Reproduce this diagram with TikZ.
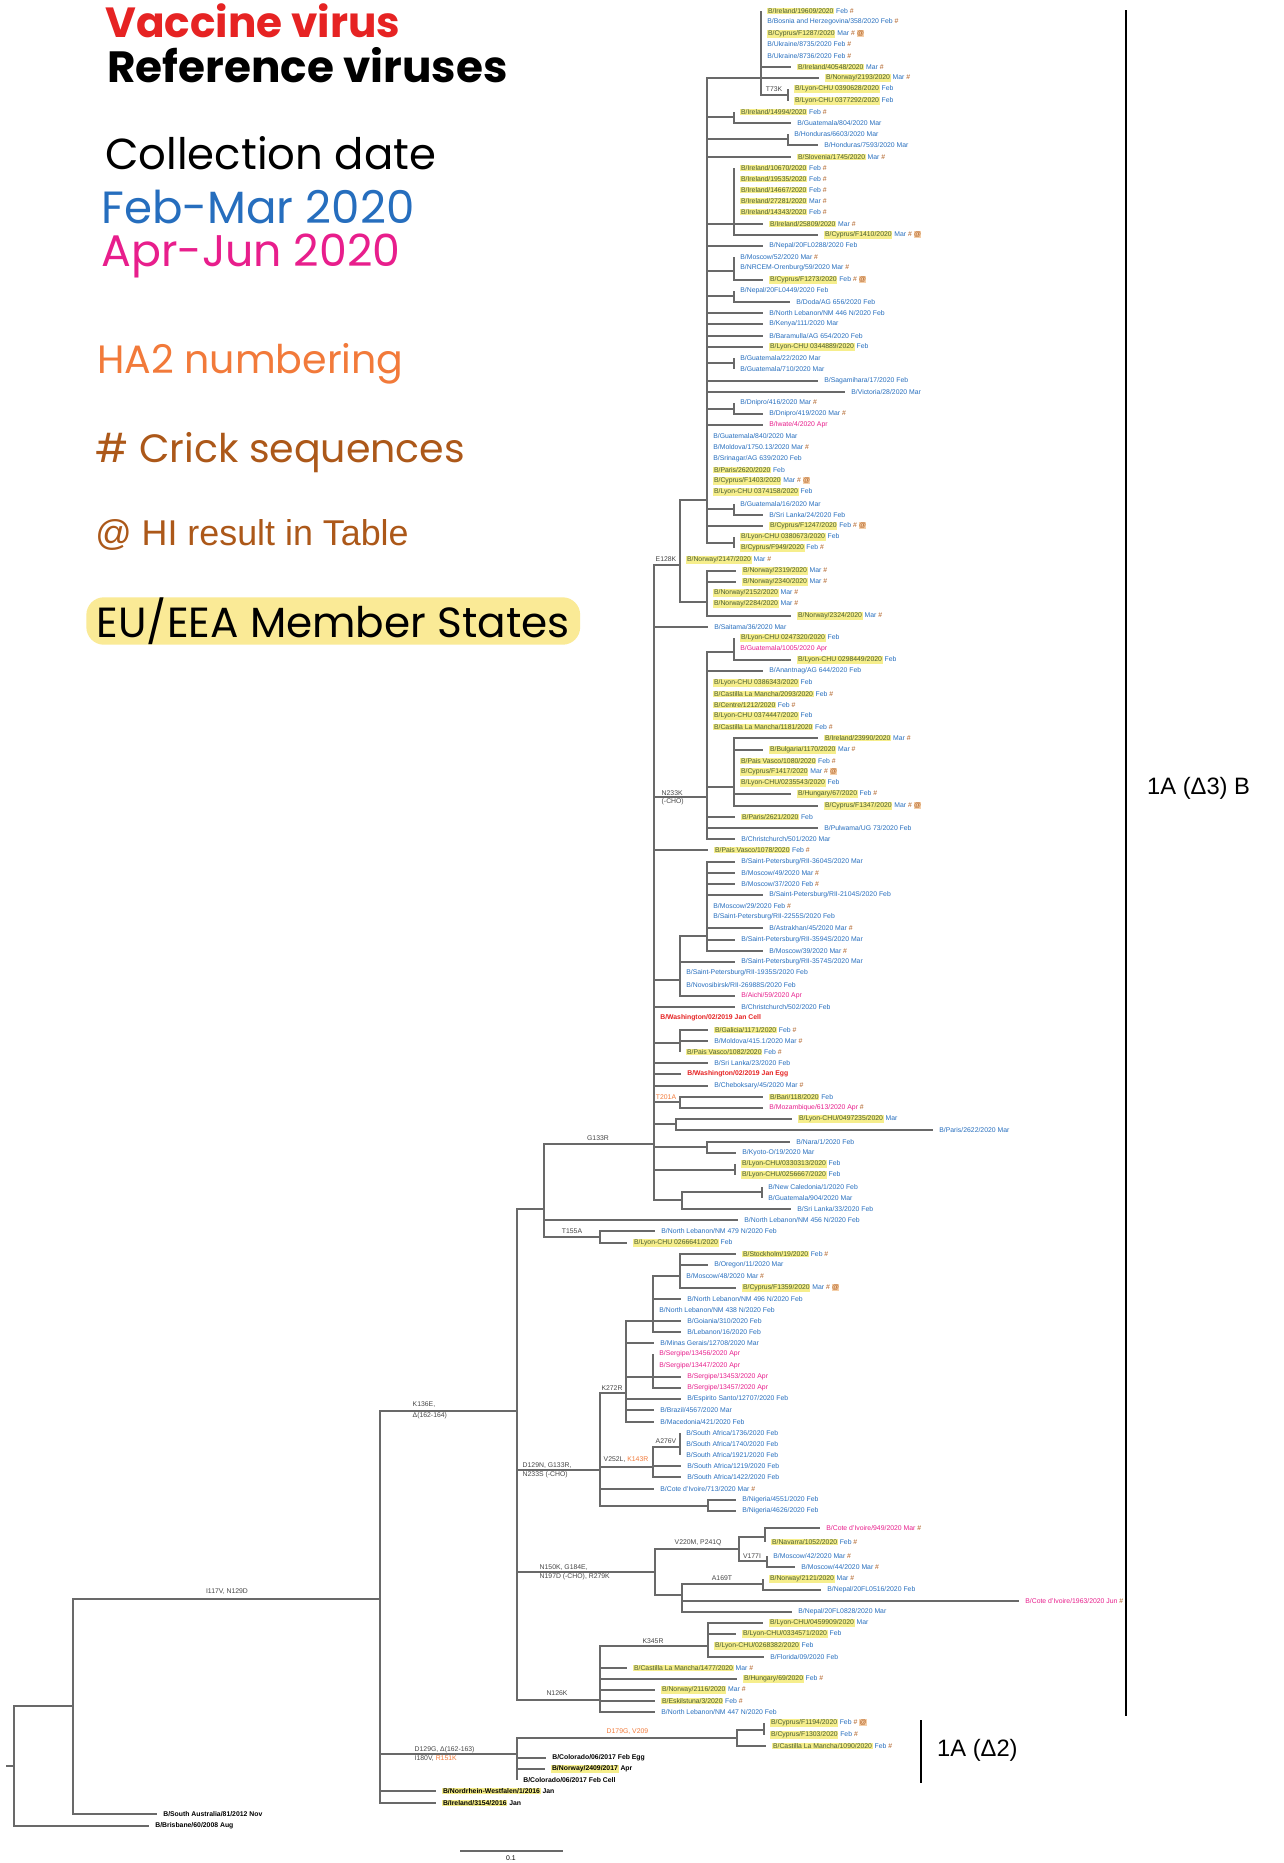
\documentclass[tikz,border=0pt]{standalone}
\usepackage{fontspec}
\setmainfont{Liberation Sans}
\newfontfamily\legfont{Poppins}

\definecolor{febmar}{RGB}{38,110,190}
\definecolor{aprjun}{RGB}{232,30,140}
\definecolor{vacred}{RGB}{230,35,35}
\definecolor{ha2}{RGB}{242,122,58}
\definecolor{crick}{RGB}{172,88,25}
\definecolor{hlyel}{RGB}{246,238,140}
\definecolor{hltxt}{RGB}{72,92,50}
\definecolor{hibg}{RGB}{245,208,170}
\definecolor{brgray}{RGB}{105,105,105}
\definecolor{mutgray}{RGB}{70,70,70}
\definecolor{euyel}{RGB}{250,234,150}

\newcommand\lfont{\fontsize{3.9}{4.6}\selectfont}
\newcommand\euhl[1]{{\setlength{\fboxsep}{0.4pt}\colorbox{hlyel}{\textcolor{hltxt}{#1}}}}
\newcommand\euhlk[1]{{\setlength{\fboxsep}{0.4pt}\colorbox{hlyel}{#1}}}
\newcommand\crk{~\textcolor{crick}{\#}}
\newcommand\hir{~{\setlength{\fboxsep}{0.2pt}\colorbox{hibg}{\textcolor{crick}{@}}}}

\tikzset{
  br/.style={draw=brgray, line width=0.65pt},
  leaf/.style={anchor=west, inner sep=0.3pt, outer xsep=3.3pt, outer ysep=0pt, font=\lfont, text=febmar},
  apr/.style={text=aprjun},
  vac/.style={text=vacred, font=\lfont\bfseries},
  refv/.style={text=black, font=\lfont\bfseries},
  inode/.style={inner sep=0pt, outer sep=0pt, minimum size=0pt},
  mut/.style={font=\lfont, text=mutgray, inner sep=0.2pt},
  hatwo/.style={mut, text=ha2},
  legend/.style={anchor=west, inner sep=0pt, font=\legfont\fontsize{#1}{28}\selectfont},
  legend/.default=24,
  cladebar/.style={draw=black, line width=1.4pt}
}

\begin{document}
\begin{tikzpicture}[x=0.02cm,y=-0.02cm]
\fill[white] (0,0) rectangle (1284,1863);
\useasboundingbox (0,0) rectangle (1284,1863);

\node[legend, font=\legfont\bfseries\fontsize{24}{28}\selectfont, text=vacred] (vacc) at (105,21) {Vaccine virus};
\node[legend, font=\legfont\bfseries\fontsize{24.9}{28}\selectfont] (refs) at (107,65) {Reference viruses};
\node[legend=24.7] (coll) at (105,153) {Collection date};
\node[legend=25.7, text=febmar] (febm) at (101,207) {Feb-Mar 2020};
\node[legend=25.2, text=aprjun] (aprj) at (101,256) {Apr-Jun 2020};
\node[legend=22.5, text=ha2] (hanum) at (97,364) {HA2 numbering};
\node[legend=22.5, text=crick] (crseq) at (95,453) {\# Crick sequences};
\node[legend, text=crick, font=\fontsize{20.4}{23}\selectfont] (hires) at (95,535) {@ HI result in Table};
\node[legend, fill=euyel, rounded corners=10pt, inner xsep=6pt, minimum height=27pt] (eea) at (86,621) {EU/EEA Member States};

\node[inode] (root) at (14,1766) {};
\node[inode] (ca) at (73,1706) {};
\node[inode] (i117) at (380,1599) {};
\node[inode] (k136) at (517,1411) {};
\node[inode] (del2) at (517,1754) {};
\node[inode] (d179) at (737,1738) {};
\node[inode] (cyp2) at (764,1730) {};
\node[inode] (g133) at (544,1209) {};
\node[inode] (t155) at (600,1237) {};
\node[inode] (main) at (654,1144) {};
\node[inode] (e128) at (680,565) {};
\node[inode] (big) at (707,500) {};
\node[inode] (t1) at (761,78) {};
\node[inode] (t73) at (788,95) {};
\node[inode] (b1) at (734,117) {};
\node[inode] (b2) at (788,139) {};
\node[inode] (b3) at (734,224) {};
\node[inode] (b4) at (734,271) {};
\node[inode] (b5) at (734,296) {};
\node[inode] (b6) at (734,363) {};
\node[inode] (b7) at (734,409) {};
\node[inode] (b8) at (734,509) {};
\node[inode] (b9) at (734,543) {};
\node[inode] (nor) at (707,602) {};
\node[inode] (n233) at (707,797) {};
\node[inode] (n1) at (734,652) {};
\node[inode] (n2) at (734,787) {};
\node[inode] (spb) at (680,980) {};
\node[inode] (spb1) at (707,936) {};
\node[inode] (gal) at (680,1043) {};
\node[inode] (t201) at (680,1102) {};
\node[inode] (par) at (676,1124) {};
\node[inode] (nar) at (707,1147) {};
\node[inode] (lyo) at (735,1170) {};
\node[inode] (sri) at (682,1200) {};
\node[inode] (cal) at (762,1192) {};
\node[inode] (d129n) at (600,1470) {};
\node[inode] (k272) at (626,1393) {};
\node[inode] (w) at (653,1321) {};
\node[inode] (w1) at (680,1276) {};
\node[inode] (serg) at (653,1377) {};
\node[inode] (v252) at (653,1467) {};
\node[inode] (a276) at (680,1447) {};
\node[inode] (nig) at (708,1506) {};
\node[inode] (n150) at (655,1572) {};
\node[inode] (v220) at (739,1549) {};
\node[inode] (civ) at (765,1537) {};
\node[inode] (v177) at (767,1561) {};
\node[inode] (atn) at (682,1595) {};
\node[inode] (a169) at (763,1584) {};
\node[inode] (n126) at (600,1700) {};
\node[inode] (k345) at (708,1646) {};
\coordinate (stub) at (6,1766);

\node[leaf] (l1) at (761,11) {\euhl{B/Ireland/19609/2020} Feb\crk};
\node[leaf] (l2) at (761,22) {B/Bosnia and Herzegovina/358/2020 Feb\crk};
\node[leaf] (l3) at (761,34) {\euhl{B/Cyprus/F1287/2020} Mar\crk\hir};
\node[leaf] (l4) at (761,44) {B/Ukraine/8735/2020 Feb\crk};
\node[leaf] (l5) at (761,56) {B/Ukraine/8736/2020 Feb\crk};
\node[leaf] (l6) at (791,67) {\euhl{B/Ireland/40548/2020} Mar\crk};
\node[leaf] (l7) at (819,78) {\euhl{B/Norway/2193/2020} Mar\crk};
\node[leaf] (l8) at (788,89) {\euhl{B/Lyon-CHU 0390628/2020} Feb};
\node[leaf] (l9) at (788,101) {\euhl{B/Lyon-CHU 0377292/2020} Feb};
\node[leaf] (l10) at (734,112) {\euhl{B/Ireland/14994/2020} Feb\crk};
\node[leaf] (l11) at (791,123) {B/Guatemala/804/2020 Mar};
\node[leaf] (l12) at (788,134) {B/Honduras/6603/2020 Mar};
\node[leaf] (l13) at (818,145) {B/Honduras/7593/2020 Mar};
\node[leaf] (l14) at (791,157) {\euhl{B/Slovenia/1745/2020} Mar\crk};
\node[leaf] (l15) at (734,168) {\euhl{B/Ireland/10670/2020} Feb\crk};
\node[leaf] (l16) at (734,179) {\euhl{B/Ireland/19535/2020} Feb\crk};
\node[leaf] (l17) at (734,190) {\euhl{B/Ireland/14667/2020} Feb\crk};
\node[leaf] (l18) at (734,201) {\euhl{B/Ireland/27281/2020} Mar\crk};
\node[leaf] (l19) at (734,212) {\euhl{B/Ireland/14343/2020} Feb\crk};
\node[leaf] (l20) at (763,224) {\euhl{B/Ireland/25809/2020} Mar\crk};
\node[leaf] (l21) at (818,235) {\euhl{B/Cyprus/F1410/2020} Mar\crk\hir};
\node[leaf] (l22) at (763,246) {B/Nepal/20FL0288/2020 Feb};
\node[leaf] (l23) at (734,257) {B/Moscow/52/2020 Mar\crk};
\node[leaf] (l24) at (734,268) {B/NRCEM-Orenburg/59/2020 Mar\crk};
\node[leaf] (l25) at (763,280) {\euhl{B/Cyprus/F1273/2020} Feb\crk\hir};
\node[leaf] (l26) at (734,291) {B/Nepal/20FL0449/2020 Feb};
\node[leaf] (l27) at (790,302) {B/Doda/AG 656/2020 Feb};
\node[leaf] (l28) at (763,313) {B/North Lebanon/NM 446 N/2020 Feb};
\node[leaf] (l29) at (763,324) {B/Kenya/111/2020 Mar};
\node[leaf] (l30) at (763,336) {B/Baramulla/AG 654/2020 Feb};
\node[leaf] (l31) at (763,347) {\euhl{B/Lyon-CHU 0344889/2020} Feb};
\node[leaf] (l32) at (734,358) {B/Guatemala/22/2020 Mar};
\node[leaf] (l33) at (734,369) {B/Guatemala/710/2020 Mar};
\node[leaf] (l34) at (818,381) {B/Sagamihara/17/2020 Feb};
\node[leaf] (l35) at (845,392) {B/Victoria/28/2020 Mar};
\node[leaf] (l36) at (734,403) {B/Dnipro/416/2020 Mar\crk};
\node[leaf] (l37) at (763,414) {B/Dnipro/419/2020 Mar\crk};
\node[leaf,apr] (l38) at (763,425) {B/Iwate/4/2020 Apr};
\node[leaf] (l39) at (707,436) {B/Guatemala/840/2020 Mar};
\node[leaf] (l40) at (707,447) {B/Moldova/1750.13/2020 Mar\crk};
\node[leaf] (l41) at (707,459) {B/Srinagar/AG 639/2020 Feb};
\node[leaf] (l42) at (707,470) {\euhl{B/Paris/2620/2020} Feb};
\node[leaf] (l43) at (707,481) {\euhl{B/Cyprus/F1403/2020} Mar\crk\hir};
\node[leaf] (l44) at (707,492) {\euhl{B/Lyon-CHU 0374158/2020} Feb};
\node[leaf] (l45) at (734,504) {B/Guatemala/16/2020 Mar};
\node[leaf] (l46) at (763,515) {B/Sri Lanka/24/2020 Feb};
\node[leaf] (l47) at (763,526) {\euhl{B/Cyprus/F1247/2020} Feb\crk\hir};
\node[leaf] (l48) at (734,537) {\euhl{B/Lyon-CHU 0380673/2020} Feb};
\node[leaf] (l49) at (734,548) {\euhl{B/Cyprus/F949/2020} Feb\crk};
\node[leaf] (l50) at (680,560) {\euhl{B/Norway/2147/2020} Mar\crk};
\node[leaf] (l51) at (736,571) {\euhl{B/Norway/2319/2020} Mar\crk};
\node[leaf] (l52) at (736,582) {\euhl{B/Norway/2340/2020} Mar\crk};
\node[leaf] (l53) at (707,593) {\euhl{B/Norway/2152/2020} Mar\crk};
\node[leaf] (l54) at (707,604) {\euhl{B/Norway/2284/2020} Mar\crk};
\node[leaf] (l55) at (791,616) {\euhl{B/Norway/2324/2020} Mar\crk};
\node[leaf] (l56) at (708,627) {B/Saitama/36/2020 Mar};
\node[leaf] (l57) at (734,638) {\euhl{B/Lyon-CHU 0247320/2020} Feb};
\node[leaf,apr] (l58) at (734,649) {B/Guatemala/1005/2020 Apr};
\node[leaf] (l59) at (791,660) {\euhl{B/Lyon-CHU 0298449/2020} Feb};
\node[leaf] (l60) at (763,671) {B/Anantnag/AG 644/2020 Feb};
\node[leaf] (l61) at (707,683) {\euhl{B/Lyon-CHU 0386343/2020} Feb};
\node[leaf] (l62) at (707,694) {\euhl{B/Castilla La Mancha/2093/2020} Feb\crk};
\node[leaf] (l63) at (707,705) {\euhl{B/Centre/1212/2020} Feb\crk};
\node[leaf] (l64) at (707,716) {\euhl{B/Lyon-CHU 0374447/2020} Feb};
\node[leaf] (l65) at (707,727) {\euhl{B/Castilla La Mancha/1181/2020} Feb\crk};
\node[leaf] (l66) at (818,738) {\euhl{B/Ireland/23990/2020} Mar\crk};
\node[leaf] (l67) at (763,750) {\euhl{B/Bulgaria/1170/2020} Mar\crk};
\node[leaf] (l68) at (734,761) {\euhl{B/Pais Vasco/1080/2020} Feb\crk};
\node[leaf] (l69) at (734,772) {\euhl{B/Cyprus/F1417/2020} Mar\crk\hir};
\node[leaf] (l70) at (734,783) {\euhl{B/Lyon-CHU/0235543/2020} Feb};
\node[leaf] (l71) at (791,794) {\euhl{B/Hungary/67/2020} Feb\crk};
\node[leaf] (l72) at (818,806) {\euhl{B/Cyprus/F1347/2020} Mar\crk\hir};
\node[leaf] (l73) at (735,817) {\euhl{B/Paris/2621/2020} Feb};
\node[leaf] (l74) at (818,828) {B/Pulwama/UG 73/2020 Feb};
\node[leaf] (l75) at (735,839) {B/Christchurch/501/2020 Mar};
\node[leaf] (l76) at (708,850) {\euhl{B/Pais Vasco/1078/2020} Feb\crk};
\node[leaf] (l77) at (735,862) {B/Saint-Petersburg/RII-3604S/2020 Mar};
\node[leaf] (l78) at (735,873) {B/Moscow/49/2020 Mar\crk};
\node[leaf] (l79) at (735,884) {B/Moscow/37/2020 Feb\crk};
\node[leaf] (l80) at (763,895) {B/Saint-Petersburg/RII-2104S/2020 Feb};
\node[leaf] (l81) at (707,906) {B/Moscow/29/2020 Feb\crk};
\node[leaf] (l82) at (707,917) {B/Saint-Petersburg/RII-2255S/2020 Feb};
\node[leaf] (l83) at (763,928) {B/Astrakhan/45/2020 Mar\crk};
\node[leaf] (l84) at (735,940) {B/Saint-Petersburg/RII-3594S/2020 Mar};
\node[leaf] (l85) at (763,951) {B/Moscow/39/2020 Mar\crk};
\node[leaf] (l86) at (735,962) {B/Saint-Petersburg/RII-3574S/2020 Mar};
\node[leaf] (l87) at (680,973) {B/Saint-Petersburg/RII-1935S/2020 Feb};
\node[leaf] (l88) at (680,985) {B/Novosibirsk/RII-26988S/2020 Feb};
\node[leaf,apr] (l89) at (735,996) {B/Aichi/59/2020 Apr};
\node[leaf] (l90) at (735,1007) {B/Christchurch/502/2020 Feb};
\node[leaf,vac] (l91) at (654,1018) {B/Washington/02/2019 Jan Cell};
\node[leaf] (l92) at (708,1030) {\euhl{B/Galicia/1171/2020} Feb\crk};
\node[leaf] (l93) at (708,1041) {B/Moldova/415.1/2020 Mar\crk};
\node[leaf] (l94) at (680,1052) {\euhl{B/Pais Vasco/1082/2020} Feb\crk};
\node[leaf] (l95) at (708,1063) {B/Sri Lanka/23/2020 Feb};
\node[leaf,vac] (l96) at (681,1074) {B/Washington/02/2019 Jan Egg};
\node[leaf] (l97) at (708,1086) {B/Cheboksary/45/2020 Mar\crk};
\node[leaf] (l98) at (763,1097) {\euhl{B/Bari/118/2020} Feb};
\node[leaf,apr] (l99) at (763,1108) {B/Mozambique/613/2020 Apr\crk};
\node[leaf] (l100) at (792,1119) {\euhl{B/Lyon-CHU/0497235/2020} Mar};
\node[leaf] (l101) at (933,1130) {B/Paris/2622/2020 Mar};
\node[leaf] (l102) at (790,1142) {B/Nara/1/2020 Feb};
\node[leaf] (l103) at (736,1153) {B/Kyoto-O/19/2020 Mar};
\node[leaf] (l104) at (735,1164) {\euhl{B/Lyon-CHU/0330313/2020} Feb};
\node[leaf] (l105) at (735,1175) {\euhl{B/Lyon-CHU/0256667/2020} Feb};
\node[leaf] (l106) at (762,1187) {B/New Caledonia/1/2020 Feb};
\node[leaf] (l107) at (762,1198) {B/Guatemala/904/2020 Mar};
\node[leaf] (l108) at (791,1209) {B/Sri Lanka/33/2020 Feb};
\node[leaf] (l109) at (738,1220) {B/North Lebanon/NM 456 N/2020 Feb};
\node[leaf] (l110) at (655,1231) {B/North Lebanon/NM 479 N/2020 Feb};
\node[leaf] (l111) at (627,1243) {\euhl{B/Lyon-CHU 0266641/2020} Feb};
\node[leaf] (l112) at (736,1254) {\euhl{B/Stockholm/19/2020} Feb\crk};
\node[leaf] (l113) at (708,1265) {B/Oregon/11/2020 Mar};
\node[leaf] (l114) at (680,1276) {B/Moscow/48/2020 Mar\crk};
\node[leaf] (l115) at (736,1288) {\euhl{B/Cyprus/F1359/2020} Mar\crk\hir};
\node[leaf] (l116) at (681,1299) {B/North Lebanon/NM 496 N/2020 Feb};
\node[leaf] (l117) at (653,1310) {B/North Lebanon/NM 438 N/2020 Feb};
\node[leaf] (l118) at (681,1321) {B/Goiania/310/2020 Feb};
\node[leaf] (l119) at (681,1332) {B/Lebanon/16/2020 Feb};
\node[leaf] (l120) at (654,1343) {B/Minas Gerais/12708/2020 Mar};
\node[leaf,apr] (l121) at (653,1354) {B/Sergipe/13456/2020 Apr};
\node[leaf,apr] (l122) at (653,1366) {B/Sergipe/13447/2020 Apr};
\node[leaf,apr] (l123) at (681,1377) {B/Sergipe/13453/2020 Apr};
\node[leaf,apr] (l124) at (681,1388) {B/Sergipe/13457/2020 Apr};
\node[leaf] (l125) at (681,1399) {B/Espirito Santo/12707/2020 Feb};
\node[leaf] (l126) at (654,1410) {B/Brazil/4567/2020 Mar};
\node[leaf] (l127) at (654,1422) {B/Macedonia/421/2020 Feb};
\node[leaf] (l128) at (680,1433) {B/South Africa/1736/2020 Feb};
\node[leaf] (l129) at (680,1444) {B/South Africa/1740/2020 Feb};
\node[leaf] (l130) at (680,1455) {B/South Africa/1921/2020 Feb};
\node[leaf] (l131) at (681,1466) {B/South Africa/1219/2020 Feb};
\node[leaf] (l132) at (681,1477) {B/South Africa/1422/2020 Feb};
\node[leaf] (l133) at (654,1489) {B/Cote d'Ivoire/713/2020 Mar\crk};
\node[leaf] (l134) at (736,1500) {B/Nigeria/4551/2020 Feb};
\node[leaf] (l135) at (736,1511) {B/Nigeria/4626/2020 Feb};
\node[leaf,apr] (l136) at (820,1528) {B/Cote d'Ivoire/949/2020 Mar\crk};
\node[leaf] (l137) at (765,1542) {\euhl{B/Navarra/1052/2020} Feb\crk};
\node[leaf] (l138) at (767,1556) {B/Moscow/42/2020 Mar\crk};
\node[leaf] (l139) at (795,1567) {B/Moscow/44/2020 Mar\crk};
\node[leaf] (l140) at (763,1579) {\euhl{B/Norway/2121/2020} Mar\crk};
\node[leaf] (l141) at (821,1590) {B/Nepal/20FL0516/2020 Feb};
\node[leaf,apr] (l142) at (1019,1601) {B/Cote d'Ivoire/1963/2020 Jun\crk};
\node[leaf] (l143) at (792,1612) {B/Nepal/20FL0828/2020 Mar};
\node[leaf] (l144) at (763,1623) {\euhl{B/Lyon-CHU/0459909/2020} Mar};
\node[leaf] (l145) at (736,1634) {\euhl{B/Lyon-CHU/0334571/2020} Feb};
\node[leaf] (l146) at (708,1646) {\euhl{B/Lyon-CHU/0268382/2020} Feb};
\node[leaf] (l147) at (764,1657) {B/Florida/09/2020 Feb};
\node[leaf] (l148) at (627,1668) {\euhl{B/Castilla La Mancha/1477/2020} Mar\crk};
\node[leaf] (l149) at (737,1679) {\euhl{B/Hungary/69/2020} Feb\crk};
\node[leaf] (l150) at (655,1690) {\euhl{B/Norway/2116/2020} Mar\crk};
\node[leaf] (l151) at (655,1701) {\euhl{B/Eskilstuna/3/2020} Feb\crk};
\node[leaf] (l152) at (655,1712) {B/North Lebanon/NM 447 N/2020 Feb};
\node[leaf] (l153) at (764,1723) {\euhl{B/Cyprus/F1194/2020} Feb\crk\hir};
\node[leaf] (l154) at (764,1735) {\euhl{B/Cyprus/F1303/2020} Feb\crk};
\node[leaf] (l155) at (766,1746) {\euhl{B/Castilla La Mancha/1090/2020} Feb\crk};
\node[leaf,refv] (l156) at (546,1758) {B/Colorado/06/2017 Feb Egg};
\node[leaf,refv] (l157) at (545,1769) {\euhlk{B/Norway/2409/2017} Apr};
\node[leaf,refv] (l158) at (517,1780) {B/Colorado/06/2017 Feb Cell};
\node[leaf,refv] (l159) at (436,1791) {\euhlk{B/Nordrhein-Westfalen/1/2016} Jan};
\node[leaf,refv] (l160) at (436,1803) {\euhlk{B/Ireland/3154/2016} Jan};
\node[leaf,refv] (l161) at (157,1814) {B/South Australia/81/2012 Nov};
\node[leaf,refv] (l162) at (149,1826) {B/Brisbane/60/2008 Aug};

\foreach \ch in {l1,l2,l3,l4,l5,l6,l7,t73} \draw[br] (t1) |- (\ch.west);
\foreach \ch in {l8,l9} \draw[br] (t73) |- (\ch.west);
\foreach \ch in {l10,l11} \draw[br] (b1) |- (\ch.west);
\foreach \ch in {l12,l13} \draw[br] (b2) |- (\ch.west);
\foreach \i in {15,...,21} \draw[br] (b3) |- (l\i.west);
\foreach \i in {23,24,25} \draw[br] (b4) |- (l\i.west);
\foreach \i in {26,27} \draw[br] (b5) |- (l\i.west);
\foreach \i in {32,33} \draw[br] (b6) |- (l\i.west);
\foreach \i in {36,37} \draw[br] (b7) |- (l\i.west);
\foreach \i in {45,46} \draw[br] (b8) |- (l\i.west);
\foreach \i in {48,49} \draw[br] (b9) |- (l\i.west);
\foreach \ch in {t1,b1,b2,l14,b3,l22,b4,b5,l28,l29,l30,l31,b6,l34,l35,b7,l38,l39,l40,l41,l42,l43,l44,b8,l47,b9} \draw[br] (big) |- (\ch.west);
\foreach \i in {51,...,55} \draw[br] (nor) |- (l\i.west);
\foreach \ch in {big,l50,nor} \draw[br] (e128) |- (\ch.west);
\foreach \i in {57,58,59} \draw[br] (n1) |- (l\i.west);
\foreach \i in {66,...,72} \draw[br] (n2) |- (l\i.west);
\foreach \ch in {n1,l60,l61,l62,l63,l64,l65,n2,l73,l74,l75} \draw[br] (n233) |- (\ch.west);
\foreach \i in {77,...,85} \draw[br] (spb1) |- (l\i.west);
\foreach \ch in {spb1,l86,l87,l88,l89} \draw[br] (spb) |- (\ch.west);
\foreach \i in {92,93,94} \draw[br] (gal) |- (l\i.west);
\foreach \i in {98,99} \draw[br] (t201) |- (l\i.west);
\foreach \i in {100,101} \draw[br] (par) |- (l\i.west);
\foreach \i in {102,103} \draw[br] (nar) |- (l\i.west);
\foreach \i in {104,105} \draw[br] (lyo) |- (l\i.west);
\foreach \i in {106,107} \draw[br] (cal) |- (l\i.west);
\foreach \ch in {cal,l108} \draw[br] (sri) |- (\ch.west);
\foreach \ch in {e128,l56,n233,l76,spb,l90,l91,gal,l95,l96,l97,t201,par,nar,lyo,sri} \draw[br] (main) |- (\ch.west);
\foreach \i in {110,111} \draw[br] (t155) |- (l\i.west);
\foreach \ch in {main,l109,t155} \draw[br] (g133) |- (\ch.west);
\foreach \i in {112,...,115} \draw[br] (w1) |- (l\i.west);
\foreach \ch in {w1,l116,l117,l118,l119} \draw[br] (w) |- (\ch.west);
\foreach \i in {121,...,124} \draw[br] (serg) |- (l\i.west);
\foreach \ch in {w,l120,serg,l125,l126,l127} \draw[br] (k272) |- (\ch.west);
\foreach \i in {128,129,130} \draw[br] (a276) |- (l\i.west);
\foreach \ch in {a276,l131,l132} \draw[br] (v252) |- (\ch.west);
\foreach \i in {134,135} \draw[br] (nig) |- (l\i.west);
\foreach \ch in {k272,v252,l133,nig} \draw[br] (d129n) |- (\ch.west);
\foreach \i in {136,137} \draw[br] (civ) |- (l\i.west);
\foreach \i in {138,139} \draw[br] (v177) |- (l\i.west);
\foreach \ch in {civ,v177} \draw[br] (v220) |- (\ch.west);
\foreach \i in {140,141} \draw[br] (a169) |- (l\i.west);
\foreach \ch in {a169,l142,l143} \draw[br] (atn) |- (\ch.west);
\foreach \ch in {v220,atn} \draw[br] (n150) |- (\ch.west);
\foreach \i in {144,...,147} \draw[br] (k345) |- (l\i.west);
\foreach \ch in {k345,l148,l149,l150,l151,l152} \draw[br] (n126) |- (\ch.west);
\foreach \ch in {g133,d129n,n150,n126} \draw[br] (k136) |- (\ch.west);
\foreach \i in {153,154} \draw[br] (cyp2) |- (l\i.west);
\foreach \ch in {cyp2,l155} \draw[br] (d179) |- (\ch.west);
\foreach \ch in {d179,l156,l157,l158} \draw[br] (del2) |- (\ch.west);
\foreach \ch in {k136,del2,l159,l160} \draw[br] (i117) |- (\ch.west);
\foreach \ch in {i117,l161} \draw[br] (ca) |- (\ch.west);
\foreach \ch in {ca,l162} \draw[br] (root) |- (\ch.west);
\draw[br] (stub) -- (root);

\node[mut] (mt73) at (774,89) {T73K};
\node[mut] (me128) at (666,559) {E128K};
\node[mut, anchor=south west] (mn233) at (661,796) {N233K};
\node[mut, anchor=north west] (mcho) at (661,798) {(-CHO)};
\node[hatwo] (mt201) at (666,1097) {T201A};
\node[mut] (mg133) at (598,1138) {G133R};
\node[mut] (mt155) at (572,1231) {T155A};
\node[mut] (mk272) at (612,1388) {K272R};
\node[mut] (ma276) at (666,1441) {A276V};
\node[mut, anchor=west] (mv252) at (603,1460) {V252L, \textcolor{ha2}{K143R}};
\node[mut, anchor=south west] (md129a) at (522,1469.5) {D129N, G133R,};
\node[mut, anchor=north west] (md129b) at (522,1470.5) {N233S (-CHO)};
\node[mut, anchor=south west] (mn150a) at (539,1571.5) {N150K, G184E,};
\node[mut, anchor=north west] (mn150b) at (539,1572.5) {N197D (-CHO), R279K};
\node[mut, anchor=west] (mv220) at (674,1543) {V220M, P241Q};
\node[mut] (mv177) at (752,1556) {V177I};
\node[mut] (ma169) at (722,1578) {A169T};
\node[mut] (mk345) at (653,1641) {K345R};
\node[mut] (mn126) at (557,1693) {N126K};
\node[hatwo, anchor=west] (md179) at (606,1732) {D179G, V209};
\node[mut, anchor=south west] (mk136a) at (412,1408) {K136E,};
\node[mut, anchor=north west] (mk136b) at (412,1412) {Δ(162-164)};
\node[mut, anchor=south west] (md129ga) at (414,1753.5) {D129G, Δ(162-163)};
\node[mut, anchor=north west] (md129gb) at (414,1754.5) {I180V, \textcolor{ha2}{R151K}};
\node[mut] (mi117) at (227,1592) {I117V, N129D};

\draw[cladebar] (1126,10) -- (1126,1716);
\node[anchor=west, font=\fontsize{13.5}{16}\selectfont] (cl3) at (1141,788) {1A (Δ3) B};
\draw[cladebar] (921,1720) -- (921,1783);
\node[anchor=west, font=\fontsize{13.5}{16}\selectfont] (cl2) at (931,1750) {1A (Δ2)};

\draw[br] (460,1851) -- (563,1851);
\node[mut, text=black] (scl) at (511,1858) {0.1};
\end{tikzpicture}
\end{document}
